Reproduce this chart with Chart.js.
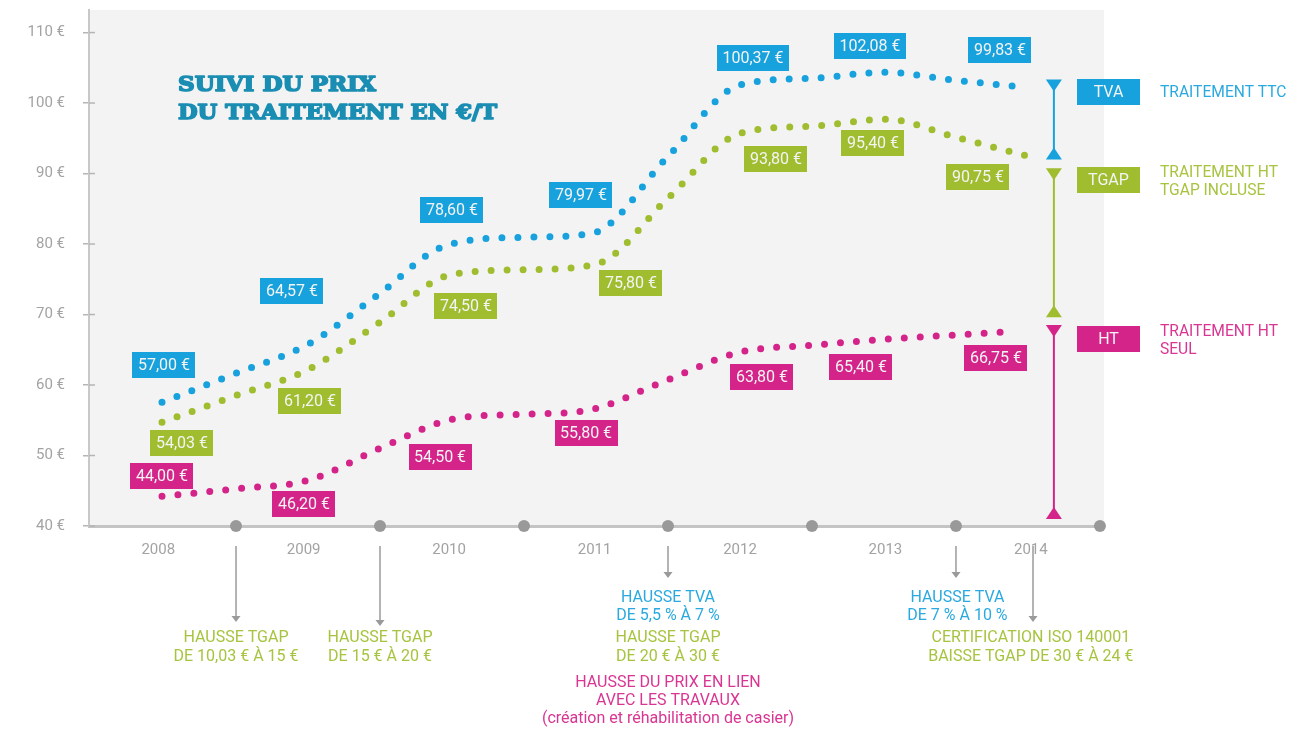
<!DOCTYPE html>
<html>
<head>
<meta charset="utf-8">
<script src="https://cdn.jsdelivr.net/npm/chart.js@4.4.0/dist/chart.umd.min.js"></script>
<style>
html,body{margin:0;padding:0;background:#fff;}
#wrap{position:relative;width:1315px;height:729px;}
</style>
</head>
<body>
<div id="wrap"><canvas id="c" width="1315" height="729"></canvas></div>
<script>
// ---------- DATA ----------
const years = ['2008', '2009', '2010', '2011', '2012', '2013', '2014'];
const yTickValues = [40, 50, 60, 70, 80, 90, 100, 110];

// Values printed in the boxes
const ttcValues  = [57.00, 64.57, 78.60, 79.97, 100.37, 102.08, 99.83];
const tgapValues = [54.03, 61.20, 74.50, 75.80, 93.80, 95.40, 90.75];
const htValues   = [44.00, 46.20, 54.50, 55.80, 63.80, 65.40, 66.75];

// Dotted curves (x = position in years, y = €/t)
const ttcCurveX  = [2008.486, 2009.0, 2009.5, 2010.0, 2010.444, 2011.0, 2011.472, 2012.0, 2012.493, 2013.0, 2013.5, 2014.0, 2014.403];
const ttcCurveY  = [57.55, 61.66, 65.78, 73.01, 79.68, 80.96, 81.52, 92.42, 102.52, 103.51, 104.36, 103.23, 102.38];
const tgapCurveX = [2008.486, 2009.0, 2009.5, 2010.0, 2010.479, 2011.0, 2011.5, 2012.0, 2012.5, 2013.0, 2013.514, 2014.0, 2014.5];
const tgapCurveY = [54.71, 58.51, 62.19, 68.90, 75.57, 76.35, 77.13, 86.49, 95.71, 96.70, 97.70, 95.14, 92.45];
const htCurveX   = [2008.486, 2009.0, 2009.5, 2010.0, 2010.5, 2011.0, 2011.438, 2012.0, 2012.493, 2013.0, 2013.507, 2014.0, 2014.41];
const htCurveY   = [44.21, 45.28, 46.48, 51.02, 55.14, 55.85, 56.41, 60.75, 64.64, 65.63, 66.49, 67.11, 67.62];

// Year boundary markers on the time axis
const boundaryYears = [2009, 2010, 2011, 2012, 2013, 2014, 2015];

// Placement of the value boxes (x in years, y in €/t)
const ttcLabelX  = [2008.500, 2009.389, 2010.500, 2011.396, 2012.590, 2013.403, 2014.306];
const ttcLabelY  = [62.80, 73.30, 84.79, 86.91, 106.35, 108.12, 107.49];
const tgapLabelX = [2008.625, 2009.514, 2010.597, 2011.743, 2012.750, 2013.424, 2014.153];
const tgapLabelY = [51.73, 57.69, 71.17, 74.43, 92.02, 94.29, 89.47];
const htLabelX   = [2008.486, 2009.472, 2010.417, 2011.431, 2012.653, 2013.340, 2014.278];
const htLabelY   = [47.05, 43.08, 49.75, 53.15, 61.10, 62.51, 63.79];

// Right-hand range bars (value ranges in €/t)
const rangeX = 2014.68;
const rangeTTC  = [103.35, 92.0];
const rangeTGAP = [90.75, 69.6];
const rangeHT   = [68.5, 41.0];

// Events under the time axis
const eventArrowYears = [2009, 2010, 2012, 2014, 2014.535];

const BLUE = '#17a1dd', GREEN = '#9fbd2f', PINK = '#d4248a';
const TXT_BLUE = '#2aa9e0', TXT_GREEN = '#a6c43f', TXT_PINK = '#d93592';
const FONT = 'Roboto, "Open Sans", sans-serif';

const pts = (xs, ys) => xs.map((x, i) => ({x: x, y: ys[i]}));
const fmt = v => v.toFixed(2).replace('.', ',') + ' €';

function dotted(label, xs, ys, color) {
  return {
    type: 'line', label: label, data: pts(xs, ys),
    borderColor: color, borderWidth: 7, borderDash: [0, 16], borderCapStyle: 'round',
    pointRadius: 0, fill: false, cubicInterpolationMode: 'monotone', clip: false
  };
}

function fitText(ctx, text, x, y, w) {
  const m = ctx.measureText(text).width;
  ctx.save();
  ctx.translate(x, y);
  ctx.scale(w / m, 1);
  ctx.strokeText(text, 0, 0);
  ctx.fillText(text, 0, 0);
  ctx.restore();
}

const deco = {
  id: 'deco',
  beforeDraw(chart) {
    const {ctx, chartArea: a} = chart;
    ctx.save();
    ctx.fillStyle = '#f3f3f3';
    ctx.fillRect(a.left, a.top, a.right - a.left, a.bottom - a.top);
    ctx.restore();
  },
  afterDatasetsDraw(chart) {
    const {ctx, chartArea: a} = chart;
    const xs = chart.scales.x, ys = chart.scales.y;
    ctx.save();

    // inner half of y tick marks
    ctx.strokeStyle = '#b5b5b5'; ctx.lineWidth = 1.5;
    yTickValues.forEach(v => {
      const py = ys.getPixelForValue(v);
      ctx.beginPath(); ctx.moveTo(a.left, py); ctx.lineTo(a.left + 6, py); ctx.stroke();
    });

    // title
    ctx.fillStyle = '#1a8db3'; ctx.strokeStyle = '#1a8db3'; ctx.lineWidth = 1.6; ctx.lineJoin = 'round';
    ctx.font = 'bold 21px "DejaVu Serif", serif';
    ctx.textBaseline = 'alphabetic'; ctx.textAlign = 'left';
    fitText(ctx, 'SUIVI DU PRIX', 178, 91, 198);
    fitText(ctx, 'DU TRAITEMENT EN €/T', 178, 119, 319);

    // value boxes
    ctx.font = '16px ' + FONT;
    ctx.textAlign = 'center'; ctx.textBaseline = 'middle';
    const series = [
      [ttcValues, ttcLabelX, ttcLabelY, BLUE],
      [tgapValues, tgapLabelX, tgapLabelY, GREEN],
      [htValues, htLabelX, htLabelY, PINK]
    ];
    series.forEach(([vals, lx, ly, col]) => {
      vals.forEach((v, i) => {
        const t = fmt(v);
        const cx = xs.getPixelForValue(lx[i]), cy = ys.getPixelForValue(ly[i]);
        const w = ctx.measureText(t).width + 11, h = 26;
        ctx.fillStyle = col;
        ctx.fillRect(Math.round(cx - w / 2), Math.round(cy - h / 2), Math.round(w), h);
        ctx.fillStyle = '#f4f4f4';
        ctx.fillText(t, cx, cy + 1);
      });
    });

    // range bars
    const rx = xs.getPixelForValue(rangeX);
    [[rangeTTC, BLUE], [rangeTGAP, GREEN], [rangeHT, PINK]].forEach(([r, col]) => {
      const y1 = ys.getPixelForValue(r[0]), y2 = ys.getPixelForValue(r[1]);
      ctx.strokeStyle = col; ctx.fillStyle = col; ctx.lineWidth = 2;
      ctx.beginPath(); ctx.moveTo(rx, y1 + 4); ctx.lineTo(rx, y2 - 4); ctx.stroke();
      ctx.beginPath(); ctx.moveTo(rx - 8, y1); ctx.lineTo(rx + 8, y1); ctx.lineTo(rx, y1 + 12); ctx.closePath(); ctx.fill();
      ctx.beginPath(); ctx.moveTo(rx - 8, y2); ctx.lineTo(rx + 8, y2); ctx.lineTo(rx, y2 - 12); ctx.closePath(); ctx.fill();
    });

    // legend boxes + texts
    const legend = [
      ['TVA', BLUE, 92, ['TRAITEMENT TTC'], TXT_BLUE],
      ['TGAP', GREEN, 180, ['TRAITEMENT HT', 'TGAP INCLUSE'], TXT_GREEN],
      ['HT', PINK, 339, ['TRAITEMENT HT', 'SEUL'], TXT_PINK]
    ];
    legend.forEach(([tag, col, cy, lines, tcol]) => {
      ctx.fillStyle = col;
      ctx.fillRect(1077, cy - 13, 63, 26);
      ctx.fillStyle = '#f4f4f4'; ctx.textAlign = 'center'; ctx.font = '16px ' + FONT;
      ctx.fillText(tag, 1108.5, cy + 1);
      ctx.fillStyle = tcol; ctx.textAlign = 'left'; ctx.font = '15.6px ' + FONT;
      const y0 = lines.length === 1 ? cy : cy - 8;
      lines.forEach((l, k) => ctx.fillText(l, 1160, y0 + k * 18 + 1));
    });

    // event arrows
    const arrowEnds = [622, 626, 578, 578, 622];
    ctx.strokeStyle = '#9a9a9a'; ctx.fillStyle = '#9a9a9a'; ctx.lineWidth = 1.5;
    eventArrowYears.forEach((yr, i) => {
      const px = xs.getPixelForValue(yr);
      const yEnd = arrowEnds[i];
      ctx.beginPath(); ctx.moveTo(px, 546); ctx.lineTo(px, yEnd - 5); ctx.stroke();
      ctx.beginPath(); ctx.moveTo(px - 4.5, yEnd - 6); ctx.lineTo(px + 4.5, yEnd - 6); ctx.lineTo(px, yEnd); ctx.closePath(); ctx.fill();
    });

    // event texts
    ctx.font = '16px ' + FONT; ctx.textAlign = 'center'; ctx.textBaseline = 'middle';
    const ev = [
      [2009, 638, 'HAUSSE TGAP', TXT_GREEN], [2009, 657, 'DE 10,03 € À 15 €', TXT_GREEN],
      [2010, 638, 'HAUSSE TGAP', TXT_GREEN], [2010, 657, 'DE 15 € À 20 €', TXT_GREEN],
      [2012, 598, 'HAUSSE TVA', TXT_BLUE], [2012, 616, 'DE 5,5 % À 7 %', TXT_BLUE],
      [2012, 638, 'HAUSSE TGAP', TXT_GREEN], [2012, 657, 'DE 20 € À 30 €', TXT_GREEN],
      [2012, 683, 'HAUSSE DU PRIX EN LIEN', TXT_PINK], [2012, 701, 'AVEC LES TRAVAUX', TXT_PINK],
      [2012, 719, '(création et réhabilitation de casier)', TXT_PINK],
      [2014.01, 598, 'HAUSSE TVA', TXT_BLUE], [2014.01, 616, 'DE 7 % À 10 %', TXT_BLUE],
      [2014.52, 638, 'CERTIFICATION ISO 140001', TXT_GREEN], [2014.52, 657, 'BAISSE TGAP DE 30 € À 24 €', TXT_GREEN]
    ];
    ev.forEach(([yr, py, t, col]) => {
      ctx.fillStyle = col;
      ctx.fillText(t, xs.getPixelForValue(yr), py);
    });

    ctx.restore();
  }
};

Chart.defaults.font.family = FONT;

new Chart(document.getElementById('c'), {
  type: 'line',
  data: {
    datasets: [
      dotted('Traitement TTC', ttcCurveX, ttcCurveY, BLUE),
      dotted('Traitement HT TGAP incluse', tgapCurveX, tgapCurveY, GREEN),
      dotted('Traitement HT seul', htCurveX, htCurveY, PINK),
      {
        type: 'scatter', label: 'years', data: boundaryYears.map(x => ({x: x, y: 40})),
        pointRadius: 6, pointBackgroundColor: '#999999', pointBorderWidth: 0, showLine: false, clip: false
      }
    ]
  },
  options: {
    responsive: false, animation: false, devicePixelRatio: 1,
    layout: {padding: {left: 0, top: 10, right: 211, bottom: 0}},
    plugins: {legend: {display: false}, tooltip: {enabled: false}},
    scales: {
      x: {
        type: 'linear', min: 2007.979, max: 2015.028,
        afterFit: s => { s.height = 203; s.paddingLeft = 0; s.paddingRight = 0; },
        afterBuildTicks: s => { s.ticks = years.map((y, i) => ({value: 2008.46 + i * 1.01})); },
        grid: {display: false, drawTicks: false},
        border: {display: true, color: '#c4c4c4', width: 3},
        ticks: {
          autoSkip: false, maxRotation: 0, padding: 15, color: '#a3a3a3', font: {size: 15},
          callback: (v, i) => years[i]
        }
      },
      y: {
        type: 'linear', min: 40, max: 113.2,
        afterFit: s => { s.width = 89; s.paddingTop = 0; s.paddingBottom = 0; },
        afterBuildTicks: s => { s.ticks = yTickValues.map(v => ({value: v})); },
        grid: {drawOnChartArea: false, drawTicks: true, tickLength: 6, color: '#b5b5b5', lineWidth: 1.5},
        border: {display: true, color: '#c8c8c8', width: 2},
        ticks: {padding: 18, color: '#a3a3a3', font: {size: 15}, callback: v => v + ' €'}
      }
    }
  },
  plugins: [deco]
});
</script>
</body>
</html>
